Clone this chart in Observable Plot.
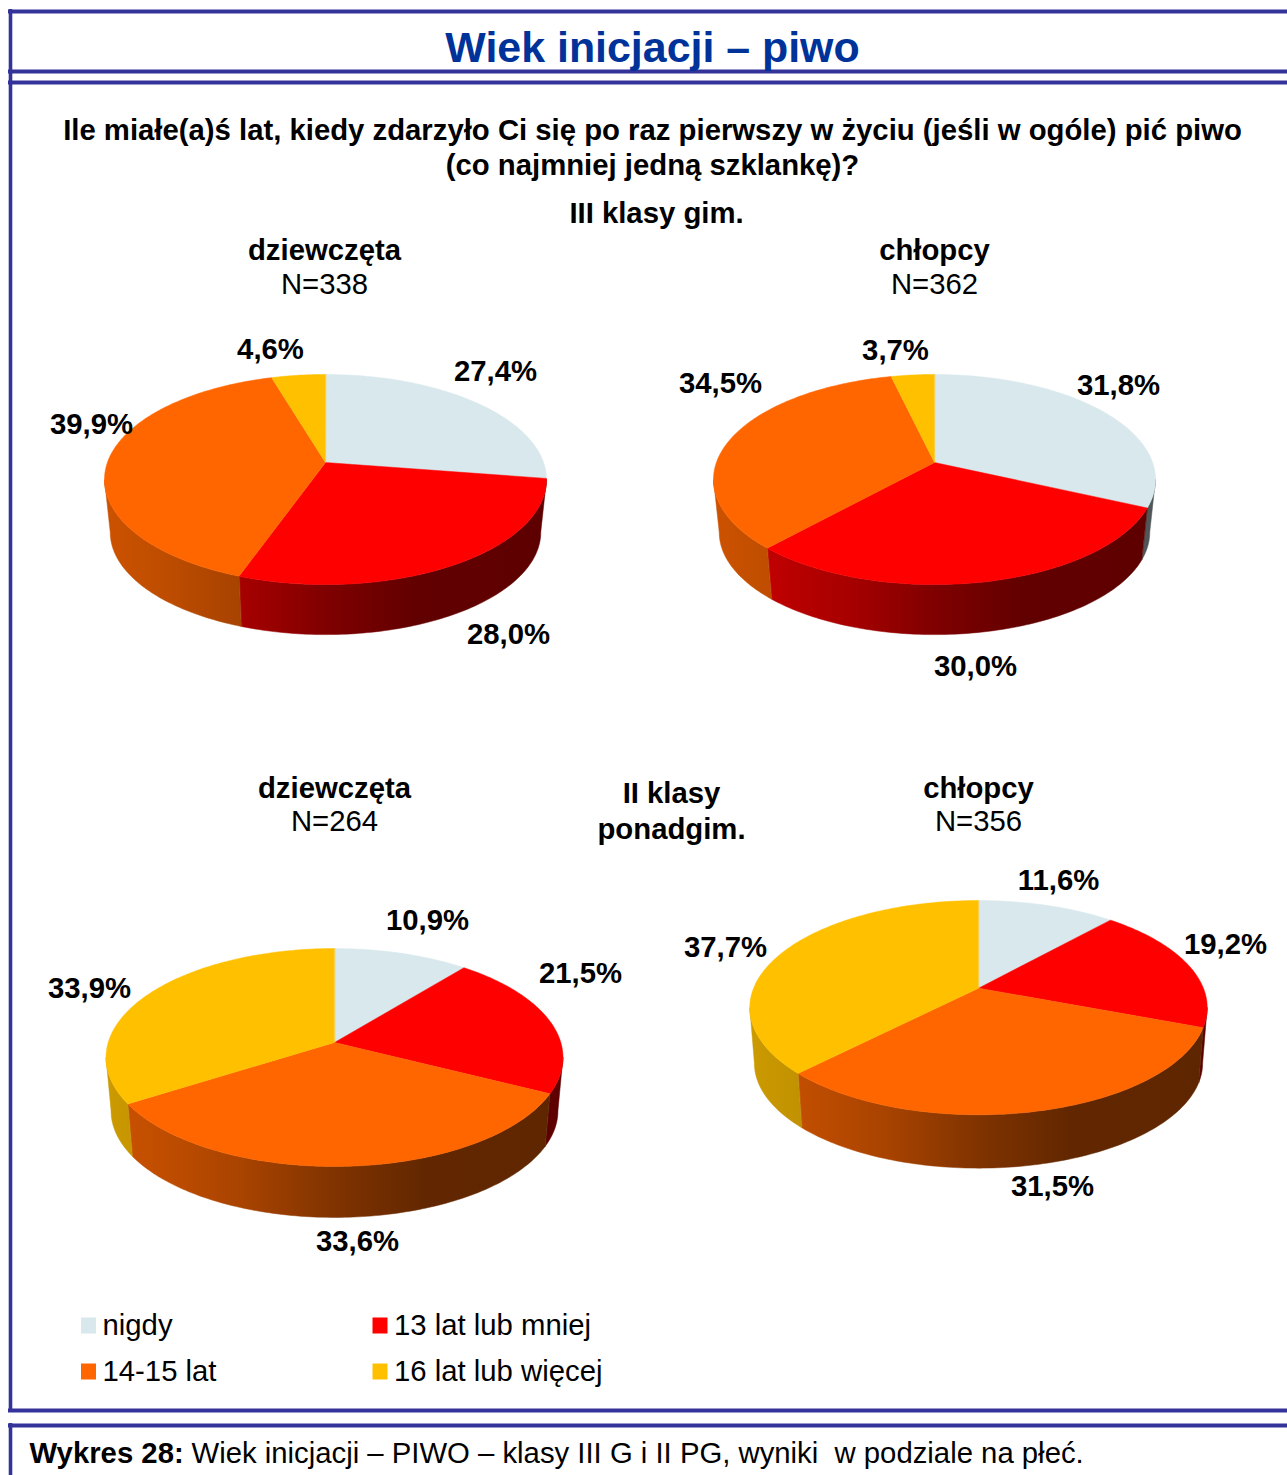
<!DOCTYPE html>
<html lang="pl">
<head>
<meta charset="utf-8">
<title>Wiek inicjacji – piwo</title>
<script src="https://cdn.jsdelivr.net/npm/d3@7"></script>
<script src="https://cdn.jsdelivr.net/npm/@observablehq/plot@0.6"></script>
<style>
html,body{margin:0;padding:0;background:#fff;overflow:hidden}
svg{display:block}
</style>
</head>
<body>
<div id="chart"></div>
<script>
// ---- data ----
const categories = ["nigdy", "13 lat lub mniej", "14-15 lat", "16 lat lub więcej"];
const girlsGim = [27.4, 28.0, 39.9, 4.6];
const boysGim = [31.8, 30.0, 34.5, 3.7];
const girlsPonadgim = [10.9, 21.5, 33.6, 33.9];
const boysPonadgim = [11.6, 19.2, 31.5, 37.7];
const sampleSizes = [338, 362, 264, 356];
const groupNames = ["dziewczęta", "chłopcy", "dziewczęta", "chłopcy"];

// ---- styles ----
const sliceColors = ["#d8e8ec", "#ff0000", "#ff6600", "#ffc000"];
const frameColor = "#333399";
const titleColor = "#003399";
const font = "'Liberation Sans', Arial, sans-serif";
const textSize = 29.3;

// ---- layout (pixels): pie perspective model and label anchors ----
const layout = [
  {values: girlsGim, cx: 325, apexY: 462, A: 218.1, B: 102.3, p: 0.162, m: 0.974, baseY: 515.2, headY: 250, headX: 324,
   labels: [[495, 371], [508, 634], [91, 424], [270, 349]]},
  {values: boysGim, cx: 934, apexY: 462, A: 218.1, B: 102.3, p: 0.162, m: 0.974, baseY: 515.2, headY: 250, headX: 934,
   labels: [[1118, 385], [975, 666], [720, 383], [895, 350]]},
  {values: girlsPonadgim, cx: 334, apexY: 1042, A: 226.3, B: 106.9, p: 0.1376, m: 0.978, baseY: 1095.7, headY: 788, headX: 334,
   labels: [[427, 920], [580, 973], [357, 1241], [89, 988]]},
  {values: boysPonadgim, cx: 978, apexY: 987.7, A: 224.9, B: 103.6, p: 0.1815, m: 0.98, baseY: 1043.6, headY: 788, headX: 978,
   labels: [[1058, 880], [1225, 944], [1052, 1186], [725, 947]]}
];
const shadeStops = [[0, 0.8], [0.13, 0.75], [0.3, 0.66], [0.5, 0.5], [0.7, 0.385], [1, 0.37]];

// ---- geometry built from the values ----
const faces = [], sides = [];
const rim = (P, deg) => {
  const t = deg * Math.PI / 180, u = Math.sin(t), v = Math.cos(t), s = 1 / (1 + P.p * v);
  return [P.cx + P.A * u * s, P.apexY - P.B * v * s];
};
const base = (P, [x, y]) => [P.cx + P.m * (x - P.cx), P.baseY + P.m * (y - P.apexY)];
layout.forEach((P, pi) => {
  const total = d3.sum(P.values);
  const rightEdge = Math.acos(-P.p) * 180 / Math.PI, leftEdge = 360 - rightEdge;
  let a0 = 0;
  const parts = P.values.map((val, ci) => {
    const a1 = a0 + val / total * 360;
    const out = {ci, a0, a1};
    a0 = a1;
    return out;
  });
  parts.forEach(({ci, a0, a1}) => {
    const s0 = Math.max(a0, rightEdge), s1 = Math.min(a1, leftEdge);
    if (s1 <= s0) return;
    const top = d3.range(s0, s1, 1).concat(s1).map(d => rim(P, d));
    const pts = top.concat(top.slice().reverse().map(q => base(P, q)));
    pts.forEach(([x, y]) => sides.push({id: `s${pi}-${ci}`, x, y, fill: `url(#side-${pi}-${ci})`}));
  });
  parts.forEach(({ci, a0, a1}) => {
    const top = d3.range(a0, a1, 1).concat(a1).map(d => rim(P, d));
    [[P.cx, P.apexY], ...top].forEach(([x, y]) => faces.push({id: `f${pi}-${ci}`, x, y, fill: sliceColors[ci]}));
  });
});

const defs = () => {
  const d = d3.create("svg:defs");
  layout.forEach((P, pi) => {
    const half = P.A / Math.sqrt(1 - P.p * P.p);
    sliceColors.forEach((c, ci) => {
      const g = d.append("linearGradient").attr("id", `side-${pi}-${ci}`)
        .attr("gradientUnits", "userSpaceOnUse")
        .attr("x1", P.cx - half).attr("x2", P.cx + half).attr("y1", 0).attr("y2", 0);
      shadeStops.forEach(([o, k]) => {
        const q = d3.rgb(c);
        g.append("stop").attr("offset", o).attr("stop-color", d3.rgb(q.r * k, q.g * k, q.b * k).formatHex());
      });
    });
  });
  return d.node();
};

const pct = v => v.toFixed(1).replace(".", ",") + "%";
const valueLabels = layout.flatMap(P => P.values.map((v, i) => ({text: pct(v), x: P.labels[i][0], y: P.labels[i][1]})));
const heads = layout.map((P, i) => ({text: groupNames[i], x: P.headX, y: P.headY}));
const ns = layout.map((P, i) => ({text: `N=${sampleSizes[i]}`, x: P.headX, y: P.headY + 34 - (i > 1 ? 1 : 0)}));
const boldLines = [
  {text: "Ile miałe(a)ś lat, kiedy zdarzyło Ci się po raz pierwszy w życiu (jeśli w ogóle) pić piwo", x: 652, y: 130},
  {text: "(co najmniej jedną szklankę)?", x: 652, y: 165},
  {text: "III klasy gim.", x: 656, y: 213},
  {text: "II klasy", x: 671, y: 793},
  {text: "ponadgim.", x: 671, y: 829}
];
const legendCells = [[81, 1325.5], [372.5, 1325.5], [81, 1371.5], [372.5, 1371.5]];
const legendRows = categories.map((c, i) => ({text: c, color: sliceColors[i], x: legendCells[i][0], y: legendCells[i][1]}));

const hLines = [
  {y: 11, x1: 8, x2: 1287}, {y: 71, x1: 8, x2: 1287}, {y: 82, x1: 8, x2: 1287},
  {y: 1410, x1: 8, x2: 1287}, {y: 1425, x1: 8, x2: 1287}
];
const vLines = [{x: 10, y1: 9, y2: 1412}, {x: 10, y1: 1423, y2: 1475}];

const polyOpts = {x: "x", y: "y", z: "id", fill: "fill", stroke: "fill", strokeWidth: 0.5, curve: "linear-closed"};

const chart = Plot.plot({
  width: 1287, height: 1475, margin: 0,
  x: {domain: [0, 1287], range: [0, 1287], axis: null},
  y: {domain: [0, 1475], range: [0, 1475], axis: null},
  color: {type: "identity"},
  style: {background: "#fff", fontFamily: font},
  marks: [
    defs,
    Plot.line(sides, polyOpts),
    Plot.line(faces, polyOpts),
    Plot.ruleY(hLines, {y: "y", x1: "x1", x2: "x2", stroke: frameColor, strokeWidth: 4}),
    Plot.ruleX(vLines, {x: "x", y1: "y1", y2: "y2", stroke: frameColor, strokeWidth: 3.6}),
    Plot.text(["Wiek inicjacji – piwo"], {text: d => d, x: () => 652, y: () => 47.5, fontSize: 42.9, fontWeight: 700, fill: titleColor, fontFamily: font}),
    Plot.text(boldLines, {text: "text", x: "x", y: "y", fontSize: textSize, fontWeight: 700, fill: "#000", fontFamily: font}),
    Plot.text(heads, {text: "text", x: "x", y: "y", fontSize: textSize, fontWeight: 700, fill: "#000", fontFamily: font}),
    Plot.text(ns, {text: "text", x: "x", y: "y", fontSize: textSize, fill: "#000", fontFamily: font}),
    Plot.text(valueLabels, {text: "text", x: "x", y: "y", fontSize: textSize, fontWeight: 700, fill: "#000", fontFamily: font}),
    Plot.rect(legendRows, {x1: "x", x2: d => d.x + 15, y1: d => d.y - 8, y2: d => d.y + 8, fill: "color"}),
    Plot.text(legendRows, {text: "text", x: d => d.x + 21, y: "y", textAnchor: "start", fontSize: textSize, fill: "#000", fontFamily: font}),
    Plot.text(["Wykres 28:"], {text: d => d, x: () => 29, y: () => 1453, textAnchor: "start", fontSize: textSize, fontWeight: 700, fill: "#000", fontFamily: font}),
    Plot.text(["Wiek inicjacji – PIWO – klasy III G i II PG, wyniki  w podziale na płeć."], {text: d => d, x: () => 191, y: () => 1453, textAnchor: "start", fontSize: textSize, fill: "#000", fontFamily: font, style: "white-space:pre"})
  ]
});
document.getElementById("chart").append(chart);
</script>
</body>
</html>
